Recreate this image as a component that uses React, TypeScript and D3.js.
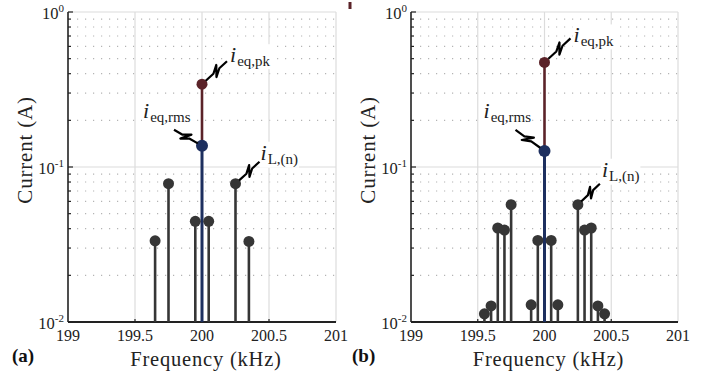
import React, { useRef, useEffect } from 'react';
import * as d3 from 'd3';

// x ticks (kHz)
const xTicks = [199, 199.5, 200, 200.5, 201];
const xTickLabels = ['199', '199.5', '200', '200.5', '201'];
// y decades (log10 of current)
const yDecades = [-2, -1, 0];

// panel (a) harmonic lines
const freqA = [199.65, 199.75, 199.95, 200.05, 200.25, 200.35];
const ampA = [0.0334, 0.078, 0.0446, 0.0446, 0.078, 0.0331];
const pkA = 0.342;
const rmsA = 0.137;

// panel (b) harmonic lines
const freqB = [199.55, 199.6, 199.65, 199.7, 199.75, 199.9, 199.95, 200.05, 200.1, 200.25, 200.3, 200.35, 200.4, 200.45];
const ampB = [0.0113, 0.0127, 0.0404, 0.0392, 0.0571, 0.0129, 0.0336, 0.0336, 0.0129, 0.0571, 0.0392, 0.0404, 0.0127, 0.0113];
const pkB = 0.473;
const rmsB = 0.127;

const W = 719, H = 378;
const FONT = '"Liberation Serif", serif';
const GRAY = '#363636', BROWN = '#5b2329', NAVY = '#1d2f5f';

// layout of each panel, annotation offsets in px from the marked point
const panels = [
  {
    tag: '(a)', tagX: 12, left: 68, right: 336, freq: freqA, amp: ampA, pk: pkA, rms: rmsA, labelX: 32,
    notes: [
      { on: 'pk', end: [25, -23], text: [28, -22], sub: 'eq,pk' },
      { on: 'rms', end: [-28, -16], text: [-59, -28], sub: 'eq,rms' },
      { on: 'L', end: [24, -22], text: [25, -24], sub: 'L,(n)' },
    ],
    lIndex: 4,
  },
  {
    tag: '(b)', tagX: 352, left: 411, right: 678, freq: freqB, amp: ampB, pk: pkB, rms: rmsB, labelX: 375,
    notes: [
      { on: 'pk', end: [26, -24], text: [29, -20], sub: 'eq,pk' },
      { on: 'rms', end: [-29, -21], text: [-61, -33], sub: 'eq,rms' },
      { on: 'L', end: [22, -21], text: [24, -28], sub: 'L,(n)' },
    ],
    lIndex: 9,
  },
];

const TOP = 12, BOTTOM = 322;

function squiggle(x0: number, y0: number, x1: number, y1: number) {
  const dx = x1 - x0, dy = y1 - y0;
  const L = Math.hypot(dx, dy);
  const ux = dx / L, uy = dy / L, nx = -uy, ny = ux;
  const p = (t: number, o: number) => [x0 + ux * L * t + nx * o, y0 + uy * L * t + ny * o];
  const pts = [p(0, 0), p(0.36, 0), p(0.64, -4.5), p(0.36, 4.5), p(0.64, 0), p(1, 0)];
  return d3.line()(pts as [number, number][]);
}

const App = () => {
  const svgRef = useRef<SVGSVGElement>(null);

  useEffect(() => {
    const svg = d3.select(svgRef.current);
    svg.selectAll('*').remove();
    svg.append('rect').attr('width', W).attr('height', H).attr('fill', '#fff');

    // stray mark at the top of the figure
    svg.append('rect').attr('x', 348.5).attr('y', 2).attr('width', 3).attr('height', 7).attr('fill', BROWN);

    panels.forEach(pn => {
      const x = d3.scaleLinear().domain([199, 201]).range([pn.left, pn.right]);
      const y = d3.scaleLog().domain([0.01, 1]).range([BOTTOM, TOP]);
      const g = svg.append('g');

      // minor dotted grid
      yDecades.slice(0, 2).forEach(d => {
        d3.range(2, 10).forEach(m => {
          const v = m * Math.pow(10, d);
          g.append('line')
            .attr('x1', pn.left + 3).attr('x2', pn.right)
            .attr('y1', y(v)).attr('y2', y(v))
            .attr('stroke', '#b4b4b4').attr('stroke-width', 1.2)
            .attr('stroke-dasharray', '1.2 6.8').attr('stroke-dashoffset', -6);
        });
      });
      // major grid
      xTicks.slice(1).forEach(t => {
        g.append('line').attr('x1', x(t)).attr('x2', x(t)).attr('y1', TOP).attr('y2', BOTTOM)
          .attr('stroke', '#dcdcdc').attr('stroke-width', 1.2);
      });
      yDecades.slice(1).forEach(d => {
        g.append('line').attr('x1', pn.left).attr('x2', pn.right).attr('y1', y(Math.pow(10, d))).attr('y2', y(Math.pow(10, d)))
          .attr('stroke', '#dcdcdc').attr('stroke-width', 1.2);
      });

      // axes
      g.append('line').attr('x1', pn.left).attr('x2', pn.left).attr('y1', TOP).attr('y2', BOTTOM)
        .attr('stroke', '#222').attr('stroke-width', 1.6);
      g.append('line').attr('x1', pn.left).attr('x2', pn.right).attr('y1', BOTTOM).attr('y2', BOTTOM)
        .attr('stroke', '#222').attr('stroke-width', 2);
      yDecades.slice(0, 2).forEach(d => {
        d3.range(1, 10).forEach(m => {
          const v = m * Math.pow(10, d);
          g.append('line').attr('x1', pn.left).attr('x2', pn.left + (m === 1 ? 5 : 3))
            .attr('y1', y(v)).attr('y2', y(v)).attr('stroke', '#222').attr('stroke-width', 1.2);
        });
      });
      g.append('line').attr('x1', pn.left).attr('x2', pn.left + 5).attr('y1', TOP).attr('y2', TOP)
        .attr('stroke', '#222').attr('stroke-width', 1.2);
      xTicks.slice(1, 4).forEach(t => {
        g.append('line').attr('x1', x(t)).attr('x2', x(t)).attr('y1', BOTTOM).attr('y2', BOTTOM - 3)
          .attr('stroke', '#222').attr('stroke-width', 1.2);
      });

      // tick labels
      xTicks.forEach((t, i) => {
        g.append('text').attr('x', x(t)).attr('y', 341).attr('text-anchor', 'middle')
          .attr('font-family', FONT).attr('font-size', 16).attr('fill', '#222').text(xTickLabels[i]);
      });
      yDecades.forEach(d => {
        const tx = g.append('text').attr('x', pn.left - 4).attr('y', y(Math.pow(10, d)) + 7)
          .attr('text-anchor', 'end').attr('font-family', FONT).attr('fill', '#222');
        tx.append('tspan').attr('font-size', 16.5).text('10');
        tx.append('tspan').attr('font-size', 11).attr('dy', -7).text(String(d));
      });

      // axis titles
      g.append('text').attr('transform', `translate(${pn.labelX},150) rotate(-90)`).attr('text-anchor', 'middle')
        .attr('font-family', FONT).attr('font-size', 21).attr('letter-spacing', 0.8).attr('fill', '#222').text('Current (A)');
      g.append('text').attr('x', (pn.left + pn.right) / 2 + 4).attr('y', 366).attr('text-anchor', 'middle')
        .attr('font-family', FONT).attr('font-size', 20.5).attr('letter-spacing', 0.8).attr('fill', '#222').text('Frequency (kHz)');
      g.append('text').attr('x', pn.tagX).attr('y', 362).attr('font-family', FONT).attr('font-weight', 'bold')
        .attr('font-size', 19).attr('fill', '#111').text(pn.tag);

      // stems
      pn.freq.forEach((f, i) => {
        g.append('line').attr('x1', x(f)).attr('x2', x(f)).attr('y1', BOTTOM).attr('y2', y(pn.amp[i]))
          .attr('stroke', GRAY).attr('stroke-width', 2.6);
      });
      g.append('line').attr('x1', x(200)).attr('x2', x(200)).attr('y1', y(pn.rms)).attr('y2', y(pn.pk))
        .attr('stroke', BROWN).attr('stroke-width', 2.6);
      g.append('line').attr('x1', x(200)).attr('x2', x(200)).attr('y1', BOTTOM).attr('y2', y(pn.rms))
        .attr('stroke', NAVY).attr('stroke-width', 3);
      pn.freq.forEach((f, i) => {
        g.append('circle').attr('cx', x(f)).attr('cy', y(pn.amp[i])).attr('r', 5.5).attr('fill', GRAY);
      });
      g.append('circle').attr('cx', x(200)).attr('cy', y(pn.pk)).attr('r', 5.5).attr('fill', BROWN);
      g.append('circle').attr('cx', x(200)).attr('cy', y(pn.rms)).attr('r', 6).attr('fill', NAVY);

      // annotations
      pn.notes.forEach(nt => {
        const px = nt.on === 'L' ? x(pn.freq[pn.lIndex]) : x(200);
        const py = nt.on === 'L' ? y(pn.amp[pn.lIndex]) : y(nt.on === 'pk' ? pn.pk : pn.rms);
        const t = g.append('text').attr('x', px + nt.text[0]).attr('y', py + nt.text[1])
          .attr('font-family', FONT).attr('fill', '#222');
        t.append('tspan').attr('font-style', 'italic').attr('font-size', 22).text('i');
        t.append('tspan').attr('font-size', 15).attr('dx', 1).attr('dy', 4).text(nt.sub);
        const bb = (t.node() as SVGTextElement).getBBox();
        g.insert('rect', () => t.node())
          .attr('x', bb.x - 1).attr('y', bb.y + 2).attr('width', bb.width + 2).attr('height', bb.height - 2)
          .attr('fill', '#fff');
        const sx = px + nt.end[0] * 0.15, sy = py + nt.end[1] * 0.15;
        g.append('path').attr('d', squiggle(sx, sy, px + nt.end[0], py + nt.end[1]))
          .attr('fill', 'none').attr('stroke', '#000').attr('stroke-width', 2.2).attr('stroke-linejoin', 'round');
      });
    });
  }, []);

  return (
    <svg ref={svgRef} width={W} height={H} style={{ position: 'absolute', left: 0, top: 0 }} />
  );
};

export default App;
